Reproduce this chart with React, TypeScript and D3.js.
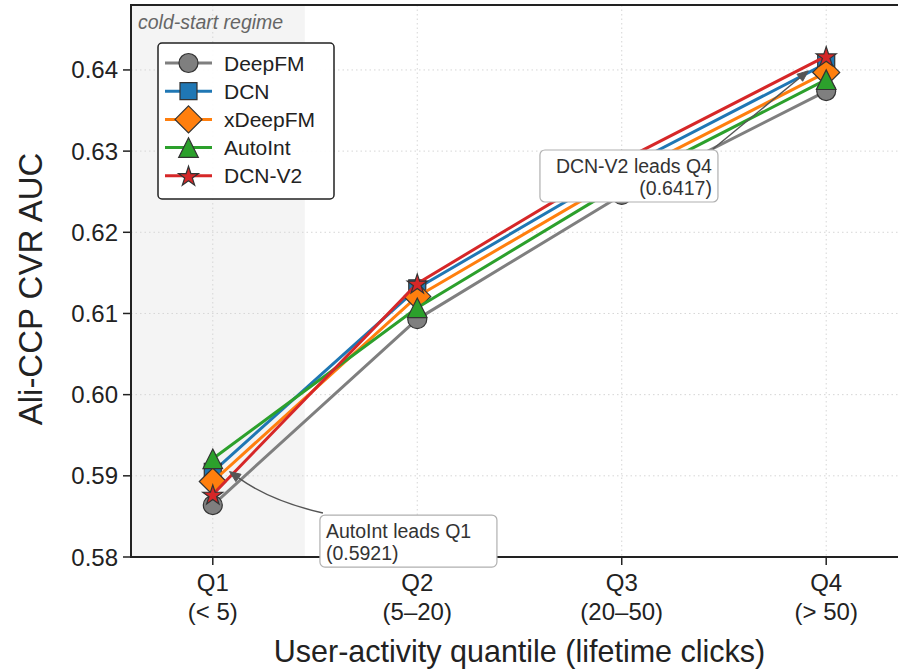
import React from "react";
import * as d3 from "d3";

// ---------- data ----------
const quantiles = ["Q1", "Q2", "Q3", "Q4"];
const quantileRanges = ["(< 5)", "(5–20)", "(20–50)", "(> 50)"];
const quantileIdx = [0, 1, 2, 3];

const models = ["DeepFM", "DCN", "xDeepFM", "AutoInt", "DCN-V2"];
const deepfmAUC = [0.5864, 0.6093, 0.6246, 0.6374];
const dcnAUC = [0.5905, 0.6131, 0.6278, 0.6408];
const xdeepfmAUC = [0.5893, 0.6121, 0.6268, 0.6397];
const autointAUC = [0.5921, 0.6107, 0.6259, 0.6388];
const dcnv2AUC = [0.5877, 0.6137, 0.6288, 0.6417];
const seriesValues = [deepfmAUC, dcnAUC, xdeepfmAUC, autointAUC, dcnv2AUC];

const yTicks = [0.58, 0.59, 0.6, 0.61, 0.62, 0.63, 0.64];

// ---------- styles ----------
const colors = ["#7f7f7f", "#1f77b4", "#ff7f0e", "#2ca02c", "#d62728"];
const markerKinds = ["circle", "square", "diamond", "triangle", "star"];
const FONT = "'Liberation Sans', Arial, Helvetica, sans-serif";

const W = 898;
const H = 671;
const M = { left: 131, top: 5, bottom: 557, right: 908 };

const x = d3.scaleLinear().domain([-0.4, 3.4]).range([M.left, M.right]);
const y = d3.scaleLinear().domain([0.58, 0.648]).range([M.bottom, M.top]);

function markerPath(kind: string, cx: number, cy: number): string {
  if (kind === "circle") {
    const r = 9.5;
    return `M${cx - r},${cy}a${r},${r} 0 1,0 ${2 * r},0a${r},${r} 0 1,0 ${-2 * r},0Z`;
  }
  if (kind === "square") {
    const s = 8.5;
    return `M${cx - s},${cy - s}H${cx + s}V${cy + s}H${cx - s}Z`;
  }
  if (kind === "diamond") {
    const s = 13.5;
    return `M${cx},${cy - s}L${cx + s},${cy}L${cx},${cy + s}L${cx - s},${cy}Z`;
  }
  if (kind === "triangle") {
    const s = 9.8;
    return `M${cx},${cy - s}L${cx + s},${cy + s}L${cx - s},${cy + s}Z`;
  }
  // star
  const R = 10.5;
  const r = R * 0.382;
  const pts: string[] = [];
  for (let i = 0; i < 10; i++) {
    const a = -Math.PI / 2 + (i * Math.PI) / 5;
    const rr = i % 2 === 0 ? R : r;
    pts.push(`${cx + rr * Math.cos(a)},${cy + rr * Math.sin(a) + 1}`);
  }
  return `M${pts.join("L")}Z`;
}

// annotation definitions (data coordinates)
const annotations = [
  {
    lines: ["AutoInt leads Q1", "(0.5921)"],
    target: [0, 0.5921],
    boxLeft: 0.524,
    boxTop: 0.58517,
    boxW: 177,
    boxH: 52,
    align: "left",
    curve: 0.12,
    startDx: 3,
    startDy: -2,
    shrink: 21,
  },
  {
    lines: ["DCN-V2 leads Q4", "(0.6417)"],
    target: [3, 0.6417],
    boxLeft: 1.6,
    boxTop: 0.63014,
    boxW: 178,
    boxH: 52,
    align: "right",
    curve: 0,
    startDx: 173,
    startDy: -1,
    shrink: 23,
  },
];

function Arrow({ a }: { a: (typeof annotations)[number] }) {
  const bx = x(a.boxLeft);
  const by = y(a.boxTop);
  const S = [bx + a.startDx, by + a.startDy];
  const E = [x(a.target[0]), y(a.target[1])];
  const mid = [(S[0] + E[0]) / 2, (S[1] + E[1]) / 2];
  const d = [E[0] - S[0], E[1] - S[1]];
  const C = [mid[0] + a.curve * d[1], mid[1] - a.curve * d[0]];
  const bez = (t: number) => [
    (1 - t) * (1 - t) * S[0] + 2 * (1 - t) * t * C[0] + t * t * E[0],
    (1 - t) * (1 - t) * S[1] + 2 * (1 - t) * t * C[1] + t * t * E[1],
  ];
  let t0 = 1;
  for (let t = 1; t > 0; t -= 0.002) {
    const p = bez(t);
    if (Math.hypot(p[0] - E[0], p[1] - E[1]) >= a.shrink) {
      t0 = t;
      break;
    }
  }
  const tip = bez(t0);
  const C1 = [S[0] + t0 * (C[0] - S[0]), S[1] + t0 * (C[1] - S[1])];
  const dirRaw = [tip[0] - (a.curve ? (C1[0] + tip[0]) / 2 : S[0]), tip[1] - (a.curve ? (C1[1] + tip[1]) / 2 : S[1])];
  const dl = Math.hypot(dirRaw[0], dirRaw[1]);
  const u = [dirRaw[0] / dl, dirRaw[1] / dl];
  const L = 11;
  const hw = 4.5;
  const base = [tip[0] - u[0] * L, tip[1] - u[1] * L];
  const head = `M${tip[0]},${tip[1]}L${base[0] - u[1] * hw},${base[1] + u[0] * hw}L${base[0] + u[1] * hw},${base[1] - u[0] * hw}Z`;
  const line = `M${S[0]},${S[1]}Q${C1[0]},${C1[1]} ${base[0]},${base[1]}`;
  return (
    <g>
      <path d={line} fill="none" stroke="#555" strokeWidth={1.4} />
      <path d={head} fill="#555" stroke="#555" strokeWidth={1} />
    </g>
  );
}

function AnnotationBox({ a }: { a: (typeof annotations)[number] }) {
  const bx = x(a.boxLeft);
  const by = y(a.boxTop);
  const tx = a.align === "left" ? bx + 6 : bx + a.boxW - 6;
  return (
    <g>
      <rect x={bx} y={by} width={a.boxW} height={a.boxH} rx={5} fill="#fff" stroke="#b0b0b0" strokeWidth={1.2} />
      {a.lines.map((l, i) => (
        <text
          key={i}
          x={tx}
          y={by + 23 + i * 22}
          fontSize={19.5}
          fill="#333"
          textAnchor={a.align === "left" ? "start" : "end"}
        >
          {l}
        </text>
      ))}
    </g>
  );
}

export default function App() {
  const lineGen = d3
    .line<number>()
    .x((_, i) => x(quantileIdx[i]))
    .y((v) => y(v));

  const legendX = 158;
  const legendY = 43;
  const legendRow = 28.2;

  return (
    <svg
      width={W}
      height={H}
      viewBox={`0 0 ${W} ${H}`}
      style={{ position: "absolute", left: 0, top: 0, background: "#fff" }}
      fontFamily={FONT}
    >
      <rect x={0} y={0} width={W} height={H} fill="#fff" />
      {/* cold-start shading */}
      <rect x={x(-0.4)} y={M.top} width={x(0.45) - x(-0.4)} height={M.bottom - M.top} fill="#f4f4f4" />

      {/* grid */}
      {yTicks.map((t) => (
        <line key={"gy" + t} x1={M.left} x2={M.right} y1={y(t)} y2={y(t)} stroke="#d6d6d6" strokeWidth={1} strokeDasharray="1.5,3" />
      ))}
      {quantileIdx.map((q) => (
        <line key={"gx" + q} x1={x(q)} x2={x(q)} y1={M.top} y2={M.bottom} stroke="#d6d6d6" strokeWidth={1} strokeDasharray="1.5,3" />
      ))}

      <text x={138} y={29} fontSize={19.5} fontStyle="italic" fill="#666">
        cold-start regime
      </text>

      {/* series */}
      {seriesValues.map((vals, si) => (
        <g key={models[si]}>
          <path d={lineGen(vals) || ""} fill="none" stroke={colors[si]} strokeWidth={3} strokeLinejoin="round" />
          {vals.map((v, i) => (
            <path key={i} d={markerPath(markerKinds[si], x(quantileIdx[i]), y(v))} fill={colors[si]} stroke="#333" strokeWidth={1.2} />
          ))}
        </g>
      ))}

      {/* spines */}
      <line x1={M.left} x2={M.left} y1={M.top} y2={M.bottom + 1} stroke="#222" strokeWidth={2} />
      <line x1={M.left - 1} x2={W} y1={M.top} y2={M.top} stroke="#222" strokeWidth={2} />
      <line x1={M.left - 1} x2={W} y1={M.bottom} y2={M.bottom} stroke="#222" strokeWidth={2} />

      {/* y axis ticks */}
      {yTicks.map((t) => (
        <g key={"yt" + t}>
          <line x1={M.left - 8} x2={M.left} y1={y(t)} y2={y(t)} stroke="#222" strokeWidth={1.5} />
          <text x={M.left - 13} y={y(t) + 8.5} fontSize={24} textAnchor="end" fill="#222">
            {t.toFixed(2)}
          </text>
        </g>
      ))}
      {/* x axis ticks */}
      {quantileIdx.map((q, i) => (
        <g key={"xt" + q}>
          <line x1={x(q)} x2={x(q)} y1={M.bottom} y2={M.bottom + 8} stroke="#222" strokeWidth={1.5} />
          <text x={x(q)} y={591} fontSize={24} textAnchor="middle" fill="#222">
            {quantiles[i]}
          </text>
          <text x={x(q)} y={620} fontSize={24} textAnchor="middle" fill="#222">
            {quantileRanges[i]}
          </text>
        </g>
      ))}

      <text x={(M.left + 898) / 2 + 5} y={662} fontSize={30.5} textAnchor="middle" fill="#222">
        User-activity quantile (lifetime clicks)
      </text>
      <text
        transform={`translate(42,${(M.top + M.bottom) / 2 + 8}) rotate(-90)`}
        fontSize={33}
        textAnchor="middle"
        fill="#222"
      >
        Ali-CCP CVR AUC
      </text>

      {/* legend */}
      <g>
        <rect x={legendX} y={legendY} width={176} height={156} rx={4} fill="#fff" fillOpacity={0.92} stroke="#222" strokeWidth={1.5} />
        {models.map((m, i) => {
          const cy = legendY + 20 + i * legendRow;
          return (
            <g key={"lg" + m}>
              <line x1={165} x2={212} y1={cy} y2={cy} stroke={colors[i]} strokeWidth={3} />
              <path d={markerPath(markerKinds[i], 188.5, cy)} fill={colors[i]} stroke="#333" strokeWidth={1.2} />
              <text x={224} y={cy + 7.5} fontSize={21} fill="#222">
                {m}
              </text>
            </g>
          );
        })}
      </g>

      {/* annotations */}
      {annotations.map((a, i) => (
        <Arrow key={"ar" + i} a={a} />
      ))}
      {annotations.map((a, i) => (
        <AnnotationBox key={"ab" + i} a={a} />
      ))}
    </svg>
  );
}
